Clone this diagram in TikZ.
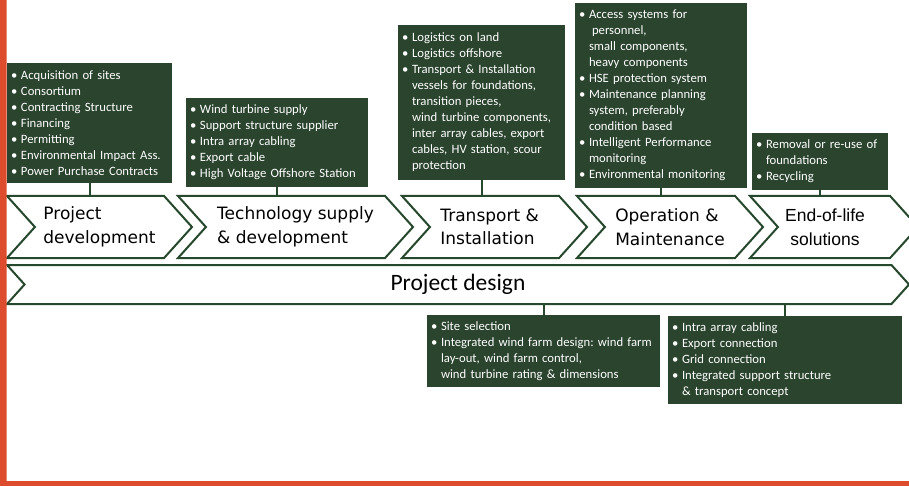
\documentclass[tikz,border=0pt]{standalone}
\usepackage{fontspec}
\setmainfont{Carlito}
\newfontfamily\chevfont{DejaVu Sans}
\newfontfamily\arialfont{Liberation Sans}
\usetikzlibrary{shapes.symbols}
\definecolor{boxgreen}{RGB}{42,68,46}
\definecolor{linegreen}{RGB}{38,72,44}
\definecolor{framered}{RGB}{221,76,44}
\newcommand{\bul}{\makebox[10pt][l]{\textbullet}}
\newcommand{\cont}{\hspace*{10pt}}
\frenchspacing

\begin{document}
\begin{tikzpicture}[x=1pt,y=-1pt,
  box/.style={fill=boxgreen,text=white,font=\fontsize{12.7}{16}\selectfont,align=left,inner xsep=4pt,inner ysep=0pt},
  chev/.style={signal,signal from=west,signal to=east,signal pointer angle=96,draw=linegreen,line width=2pt,fill=white,inner sep=0pt,minimum height=62pt,font=\chevfont\fontsize{17}{23.5}\selectfont,align=left},
  link/.style={draw=linegreen,line width=2pt}]
\useasboundingbox (0,0) rectangle (909,486);
\fill[white] (0,0) rectangle (909,486);

\node[box,minimum width=165pt,minimum height=120pt,text width=157pt] (dev) at (89.5,123)
  {\bul Acquisition of sites\\ \bul Consortium\\ \bul Contracting Structure\\ \bul Financing\\ \bul Permitting\\ \bul Environmental Impact Ass.\\ \bul Power Purchase Contracts};
\node[box,minimum width=182pt,minimum height=89pt,text width=174pt] (tech) at (277,142.5)
  {\bul Wind turbine supply\\ \bul Support structure supplier\\ \bul Intra array cabling\\ \bul Export cable\\ \bul High Voltage Offshore Station};
\node[box,minimum width=167pt,minimum height=155pt,text width=159pt] (trans) at (481.5,102.5)
  {\bul Logistics on land\\ \bul Logistics offshore\\ \bul Transport \& Installation\\ \cont vessels for foundations,\\ \cont transition pieces,\\ \cont wind turbine components,\\ \cont inter array cables, export\\ \cont cables, HV station, scour\\ \cont protection};
\node[box,minimum width=172pt,minimum height=185pt,text width=164pt] (oper) at (661,95.5)
  {\bul Access systems for\\ \cont\hspace*{3pt}personnel,\\ \cont small components,\\ \cont heavy components\\ \bul HSE protection system\\ \bul Maintenance planning\\ \cont system, preferably\\ \cont condition based\\ \bul Intelligent Performance\\ \cont monitoring\\ \bul Environmental monitoring};
\node[box,minimum width=136pt,minimum height=57pt,text width=128pt] (eol) at (820,161.5)
  {\bul Removal or re-use of\\ \cont foundations\\ \bul Recycling};
\node[box,minimum width=233pt,minimum height=72pt,text width=225pt] (site) at (543.5,351)
  {\bul Site selection\\ \bul Integrated wind farm design: wind farm\\ \cont lay-out, wind farm control,\\ \cont wind turbine rating \& dimensions};
\node[box,minimum width=234pt,minimum height=88pt,text width=226pt] (grid) at (785,360)
  {\bul Intra array cabling\\ \bul Export connection\\ \bul Grid connection\\ \bul Integrated support structure\\ \cont\& transport concept};

\node[chev,minimum width=185pt] (cdev) at (99.5,227) {Project\\development};
\node[chev,minimum width=235pt] (ctech) at (295.5,227) {Technology supply\\\& development};
\node[chev,minimum width=185pt] (ctrans) at (494.5,227) {Transport \&\\Installation\hspace*{14pt}};
\node[chev,minimum width=186pt] (coper) at (670,227) {Operation \&\\Maintenance};
\node[chev,minimum width=168pt,align=center,font=\arialfont\fontsize{17.5}{23.5}\selectfont] (ceol) at (834,227) {End-of-life\hspace*{18pt}\\solutions\hspace*{18pt}};
\node[chev,minimum width=902pt,minimum height=39pt,font=\fontsize{23.5}{24}\selectfont] (design) at (458,284.5) {Project design};

\draw[link] (dev.south) -- (dev.south |- cdev.north);
\draw[link] (tech.south) -- (tech.south |- ctech.north);
\draw[link] (trans.south) -- (trans.south |- ctrans.north);
\draw[link] (oper.south) -- (oper.south |- coper.north);
\draw[link] (eol.south) -- (eol.south |- ceol.north);
\draw[link] (site.north) -- (site.north |- design.south);
\draw[link] (grid.north) -- (grid.north |- design.south);

\fill[framered] (0,0) rectangle (6.5,486) (0,481) rectangle (909,486);
\end{tikzpicture}
\end{document}
